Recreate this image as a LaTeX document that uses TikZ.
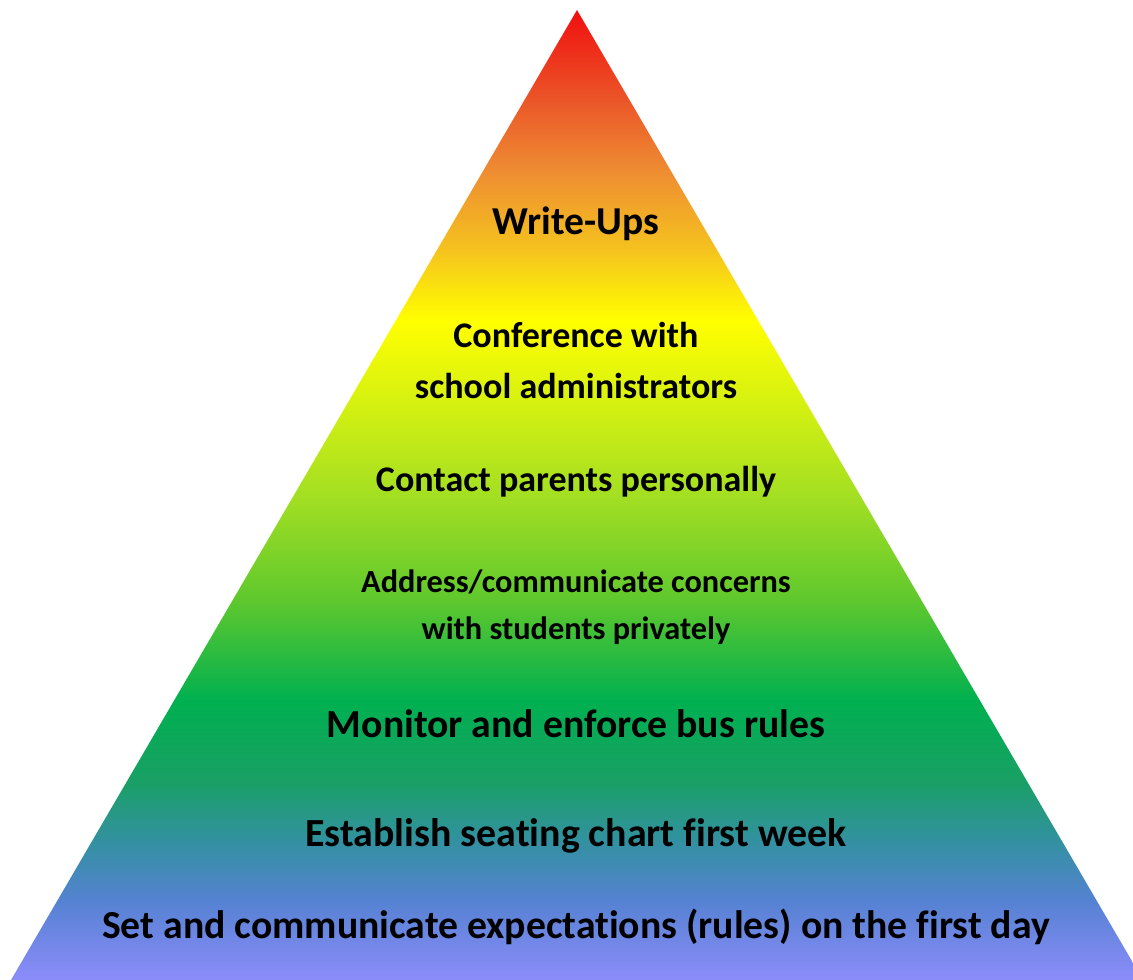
\documentclass[tikz,border=0pt]{standalone}
\usepackage{fontspec}
\setmainfont[Ligatures=NoCommon]{Carlito}

% colours of the pyramid, bottom to top
\definecolor{pyrLav}{RGB}{140,140,250}
\definecolor{pyrBlue}{RGB}{85,130,210}
\definecolor{pyrTeal}{RGB}{50,145,160}
\definecolor{pyrSea}{RGB}{25,160,100}
\definecolor{pyrGreen}{RGB}{0,176,80}
\definecolor{pyrLimeA}{RGB}{95,200,45}
\definecolor{pyrLimeB}{RGB}{160,222,35}
\definecolor{pyrLimeC}{RGB}{205,238,20}
\definecolor{pyrYellow}{RGB}{255,255,0}
\definecolor{pyrAmber}{RGB}{245,195,30}
\definecolor{pyrOrange}{RGB}{238,140,50}
\definecolor{pyrRedOr}{RGB}{235,85,40}
\definecolor{pyrRed}{RGB}{240,15,15}

% path is stretched over 25bp..75bp
\pgfdeclareverticalshading{rainbow}{100bp}{%
  color(0bp)=(pyrLav); color(25bp)=(pyrLav);
  color(29.1bp)=(pyrBlue); color(32.2bp)=(pyrTeal);
  color(35.3bp)=(pyrSea); color(39.4bp)=(pyrGreen);
  color(44.6bp)=(pyrLimeA); color(49.7bp)=(pyrLimeB);
  color(53.9bp)=(pyrLimeC); color(59bp)=(pyrYellow);
  color(62.6bp)=(pyrAmber); color(66.75bp)=(pyrOrange);
  color(70.4bp)=(pyrRedOr); color(75bp)=(pyrRed); color(100bp)=(pyrRed)}

\begin{document}
\begin{tikzpicture}[x=0.02cm,y=-0.02cm,
    tier/.style={anchor=base,inner sep=0pt,text=black}]
  \useasboundingbox (0,0) rectangle (1133,980);
  % the pyramid
  \coordinate (apex) at (577,10);
  \coordinate (baseL) at (11,980);
  \coordinate (baseR) at (1143,980);
  \shade[shading=rainbow] (apex) -- (baseR) -- (baseL) -- cycle;
  % one line of text per node, baseline given
  \foreach \y/\sz/\txt [count=\i] in {
      235/22.5/Write-Ups,
      347/20.5/Conference with,
      398/20.5/school administrators,
      491/20.5/Contact parents personally,
      592/18.4/{Address/communicate concerns},
      639/18.4/with students privately,
      737/22.6/Monitor and enforce bus rules,
      846/22.7/Establish seating chart first week,
      938/22.6/Set and communicate expectations (rules) on the first day}{
    \node[tier,font=\fontsize{\sz}{\sz}\selectfont\bfseries] (T-\i) at (576,\y) {\txt};
  }
\end{tikzpicture}
\end{document}
